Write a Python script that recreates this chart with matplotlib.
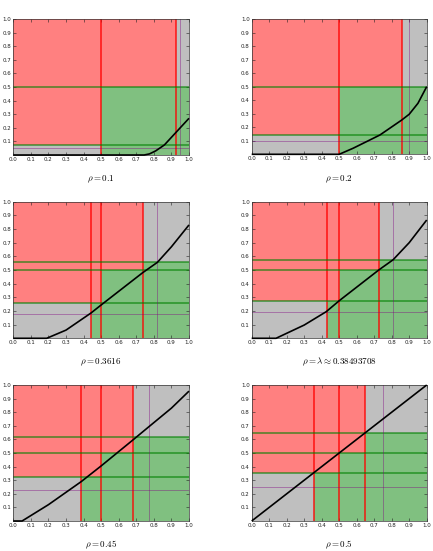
import matplotlib
matplotlib.use("Agg")
import matplotlib.pyplot as plt

plt.rcParams['mathtext.fontset'] = 'cm'

# captions of the six panels
captions = [r'$\rho = 0.1$', r'$\rho = 0.2$', r'$\rho = 0.3616$',
            r'$\rho = \lambda \approx 0.38493708$', r'$\rho = 0.45$', r'$\rho = 0.5$']

# red vertical lines (x) and green horizontal lines (y)
red_lo = [0.5, 0.5, 0.442, 0.428, 0.387, 0.355]
red_hi = [0.925, 0.857, 0.738, 0.725, 0.68, 0.645]
green_lo = [0.075, 0.143, 0.26, 0.275, 0.321, 0.355]
green_hi = [0.5, 0.5, 0.558, 0.572, 0.615, 0.645]

# thin purple lines
purple_x = [0.95, 0.9, 0.819, 0.808, 0.775, 0.75]
purple_y = [0.05, 0.1, 0.181, 0.192, 0.225, 0.25]

# black curves
curve_x = [
    [0, 0.745, 0.775, 0.81, 0.86, 0.925, 1.0],
    [0, 0.5, 0.58, 0.666, 0.733, 0.857, 0.9, 0.95, 1.0],
    [0, 0.19, 0.3, 0.442, 0.5, 0.736, 0.82, 0.9, 1.0],
    [0, 0.139, 0.3, 0.426, 0.5, 0.726, 0.808, 0.9, 1.0],
    [0, 0.05, 0.2, 0.387, 0.5, 0.68, 0.778, 0.9, 1.0],
    [0, 1.0],
]
curve_y = [
    [0, 0, 0.008, 0.03, 0.074, 0.165, 0.27],
    [0, 0, 0.045, 0.1, 0.143, 0.253, 0.296, 0.377, 0.5],
    [0, 0, 0.06, 0.185, 0.244, 0.48, 0.556, 0.67, 0.83],
    [0, 0, 0.097, 0.195, 0.275, 0.5, 0.575, 0.70, 0.866],
    [0, 0, 0.12, 0.29, 0.405, 0.595, 0.70, 0.83, 0.955],
    [0, 1.0],
]

xticks = [i / 10 for i in range(11)]
yticks = [i / 10 for i in range(1, 11)]

W, H = 433, 551
fig = plt.figure(figsize=(W / 100, H / 100), dpi=100)

# axes boxes in pixels: left, top, right, bottom
boxes = [
    (13.3, 19, 189, 155), (251.7, 19, 426.7, 154.3),
    (13.3, 201.7, 189, 338.3), (251.7, 201.7, 426.7, 338.3),
    (13.3, 385, 189, 521), (251.7, 385, 426.7, 521),
]
caption_y = [179, 179, 362, 362, 545, 545]

for i in range(6):
    l, t, r, b = boxes[i]
    ax = fig.add_axes([l / W, 1 - b / H, (r - l) / W, (b - t) / H])
    ax.set_facecolor('#bfbfbf')

    a1, a2 = red_lo[i], red_hi[i]
    b1, b2 = green_lo[i], green_hi[i]

    # red region
    ax.fill_between([0, 0.5], b1, 1, color='#ff8080', lw=0, zorder=1)
    ax.fill_between([0.5, a2], 0.5, 1, color='#ff8080', lw=0, zorder=1)
    # green region
    ax.fill_between([a1, 0.5], 0, b1, color='#80c080', lw=0, zorder=1)
    ax.fill_between([0.5, a2], 0, 0.5, color='#80c080', lw=0, zorder=1)
    ax.fill_between([a2, 1], 0, b2, color='#80c080', lw=0, zorder=1)

    for xv in sorted(set([a1, 0.5, a2])):
        ax.axvline(xv, color='red', alpha=0.8, lw=1.2, zorder=2)
    for yv in sorted(set([b1, 0.5, b2])):
        ax.axhline(yv, color='green', alpha=0.65, lw=1.2, zorder=2)

    ax.axvline(purple_x[i], color='purple', alpha=0.4, lw=0.7, zorder=2)
    ax.axhline(purple_y[i], color='purple', alpha=0.4, lw=0.7, zorder=2)

    ax.plot(curve_x[i], curve_y[i], color='black', lw=1.2, zorder=3,
            clip_on=False, solid_capstyle='butt')

    ax.set_xlim(0, 1)
    ax.set_ylim(0, 1)
    ax.set_xticks(xticks)
    ax.set_yticks(yticks)
    ax.tick_params(direction='in', length=2, width=0.4, labelsize=4,
                   top=True, right=True, pad=1.5, colors='#222222')
    for s in ax.spines.values():
        s.set_linewidth(0.5)
        s.set_color('#333333')

    fig.text((l + r) / 2 / W, 1 - caption_y[i] / H, captions[i],
             ha='center', va='center', fontsize=6.5)

fig.savefig('out.png', dpi=100)
